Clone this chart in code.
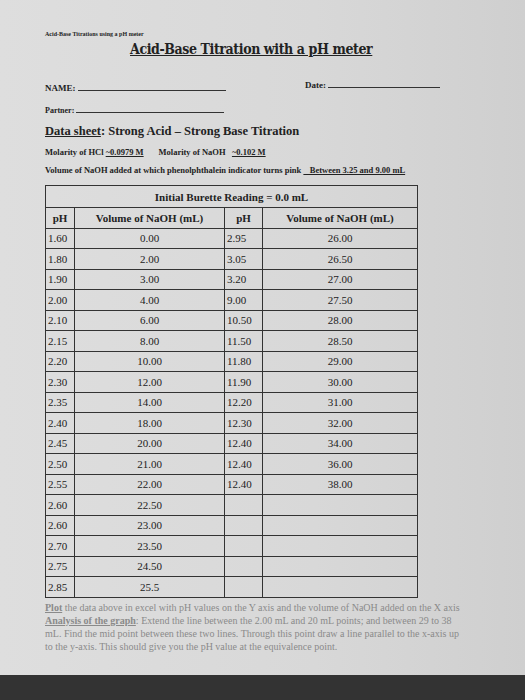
<!DOCTYPE html>
<html><head><meta charset="utf-8">
<script src="https://cdn.jsdelivr.net/npm/chart.js@4"></script>
<style>
html,body{margin:0;padding:0;width:525px;height:700px;overflow:hidden;background:#d6d6d6;}
#page{position:absolute;left:0;top:0;width:525px;height:675px;background:linear-gradient(90deg,#dedede,#d8d8d8 60%,#cfcfcf);font-family:"Liberation Serif",serif;color:#222;}
#bezel{position:absolute;left:0;top:675px;width:525px;height:25px;background:#333;}
.t{position:absolute;white-space:nowrap;}
table{position:absolute;left:45px;top:185px;border-collapse:collapse;font-size:11px;}
td{border:1.2px solid #333;height:19.5px;padding:0;text-align:center;}
td.ph{text-align:left;padding-left:2px;}
.foot{position:absolute;left:45px;font-size:10px;color:#8a8a8a;white-space:nowrap;}
</style></head><body>
<div id="page">
<div class="t" style="left:45px;top:31px;font-size:6px;font-weight:bold;">Acid-Base Titrations using a pH meter</div>
<div class="t" style="left:130px;top:41px;font-size:14px;font-weight:bold;text-decoration:underline;font-family:'DejaVu Serif Condensed','DejaVu Serif',serif;letter-spacing:-0.4px;">Acid-Base Titration with a pH meter</div>
<div class="t" style="left:45px;top:83px;font-size:9px;font-weight:bold;">NAME: <span style="display:inline-block;width:148px;border-bottom:1px solid #333;"></span></div>
<div class="t" style="left:305px;top:80px;font-size:9px;font-weight:bold;">Date: <span style="display:inline-block;width:112px;border-bottom:1px solid #333;"></span></div>
<div class="t" style="left:45px;top:106px;font-size:8px;font-weight:bold;">Partner: <span style="display:inline-block;width:148px;border-bottom:1px solid #333;"></span></div>
<div class="t" style="left:45px;top:124px;font-size:12.5px;font-weight:bold;"><u>Data sheet</u>: Strong Acid – Strong Base Titration</div>
<div class="t" style="left:45px;top:147px;font-size:8.5px;font-weight:bold;">Molarity of HCl <u>~0.0979 M</u> &nbsp;&nbsp;&nbsp;&nbsp;&nbsp;&nbsp;Molarity of NaOH &nbsp;&nbsp;<u>~0.102 M</u></div>
<div class="t" style="left:45px;top:165px;font-size:8.5px;font-weight:bold;">Volume of NaOH added at which phenolphthalein indicator turns pink <u>&nbsp;&nbsp;&nbsp;Between 3.25 and 9.00 mL</u></div>
<table id="tbl"></table>
<div class="foot" style="top:602px;"><b><u>Plot</u></b> the data above in excel with pH values on the Y axis and the volume of NaOH added on the X axis</div>
<div class="foot" style="top:615px;"><b><u>Analysis of the graph</u></b>: Extend the line between the 2.00 mL and 20 mL points; and between 29 to 38</div>
<div class="foot" style="top:628px;">mL. Find the mid point between these two lines. Through this point draw a line parallel to the x-axis up</div>
<div class="foot" style="top:641px;">to the y-axis. This should give you the pH value at the equivalence point.</div>
</div>
<div id="bezel"></div>
<script>
const leftPH=["1.60","1.80","1.90","2.00","2.10","2.15","2.20","2.30","2.35","2.40","2.45","2.50","2.55","2.60","2.60","2.70","2.75","2.85"];
const leftVol=["0.00","2.00","3.00","4.00","6.00","8.00","10.00","12.00","14.00","18.00","20.00","21.00","22.00","22.50","23.00","23.50","24.50","25.5"];
const rightPH=["2.95","3.05","3.20","9.00","10.50","11.50","11.80","11.90","12.20","12.30","12.40","12.40","12.40"];
const rightVol=["26.00","26.50","27.00","27.50","28.00","28.50","29.00","30.00","31.00","32.00","34.00","36.00","38.00"];
const headers=["pH","Volume of NaOH (mL)","pH","Volume of NaOH (mL)"];
const widths=[28,149,37,154];
const t=document.getElementById('tbl');
let h='<tr><td colspan="4" style="font-weight:bold;height:21px">Initial Burette Reading = 0.0 mL</td></tr><tr>';
headers.forEach((x,i)=>h+=`<td style="width:${widths[i]}px;font-weight:bold">${x}</td>`);
h+='</tr>';
for(let i=0;i<leftPH.length;i++){
  h+=`<tr><td class="ph">${leftPH[i]}</td><td>${leftVol[i]}</td><td class="ph">${rightPH[i]||''}</td><td>${rightVol[i]||''}</td></tr>`;
}
t.innerHTML=h;
</script>
</body></html>
